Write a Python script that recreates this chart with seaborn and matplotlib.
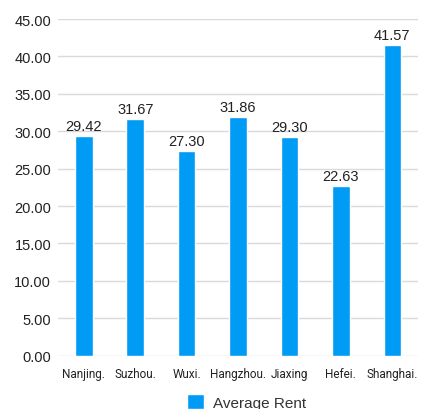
import matplotlib
matplotlib.use("Agg")
import matplotlib.pyplot as plt
import seaborn as sns
import pandas as pd
from matplotlib.patches import Patch

cities = ["Nanjing.", "Suzhou.", "Wuxi.", "Hangzhou.", "Jiaxing", "Hefei.", "Shanghai."]
avg_rent = [29.42, 31.67, 27.30, 31.86, 29.30, 22.63, 41.57]
y_ticks = [0, 5, 10, 15, 20, 25, 30, 35, 40, 45]

bar_color = "#009BF5"

sns.set_style("white")
plt.rcParams["font.family"] = ["Liberation Sans", "DejaVu Sans"]

df = pd.DataFrame({"city": cities, "rent": avg_rent})

fig = plt.figure(figsize=(4.21, 4.10), dpi=100)
ax = fig.add_axes([0.138, 0.130, 0.855, 0.821])

sns.barplot(data=df, x="city", y="rent", color=bar_color, width=0.34,
            saturation=1, ax=ax, zorder=3)

for p, v in zip(ax.patches, avg_rent):
    ax.text(p.get_x() + p.get_width() / 2, v + 0.4, f"{v:.2f}",
            ha="center", va="bottom", fontsize=10.5, color="#222222")

ax.set_ylim(0, 45)
ax.set_yticks(y_ticks)
ax.set_yticklabels([f"{t:.2f}" for t in y_ticks], fontsize=10.5, color="#222222")
ax.tick_params(axis="x", colors="#222222", length=0, pad=8)
for lbl in ax.get_xticklabels():
    lbl.set_fontfamily(["Roboto", "DejaVu Sans"])
    lbl.set_fontsize(8.5)
ax.tick_params(axis="y", length=0, pad=5)
ax.yaxis.grid(True, color="#D9D9D9", linewidth=1, zorder=0)
ax.set_axisbelow(True)
ax.set_xlabel("")
ax.set_ylabel("")
for s in ax.spines.values():
    s.set_visible(False)

handles = [Patch(facecolor=bar_color, label="Average Rent")]
fig.legend(handles=handles, loc="lower center", bbox_to_anchor=(0.585, -0.035),
           frameon=False, fontsize=11, handlelength=1.1, handleheight=1.1,
           handletextpad=0.6, labelcolor="#333333")

fig.savefig("out.png", dpi=100)
